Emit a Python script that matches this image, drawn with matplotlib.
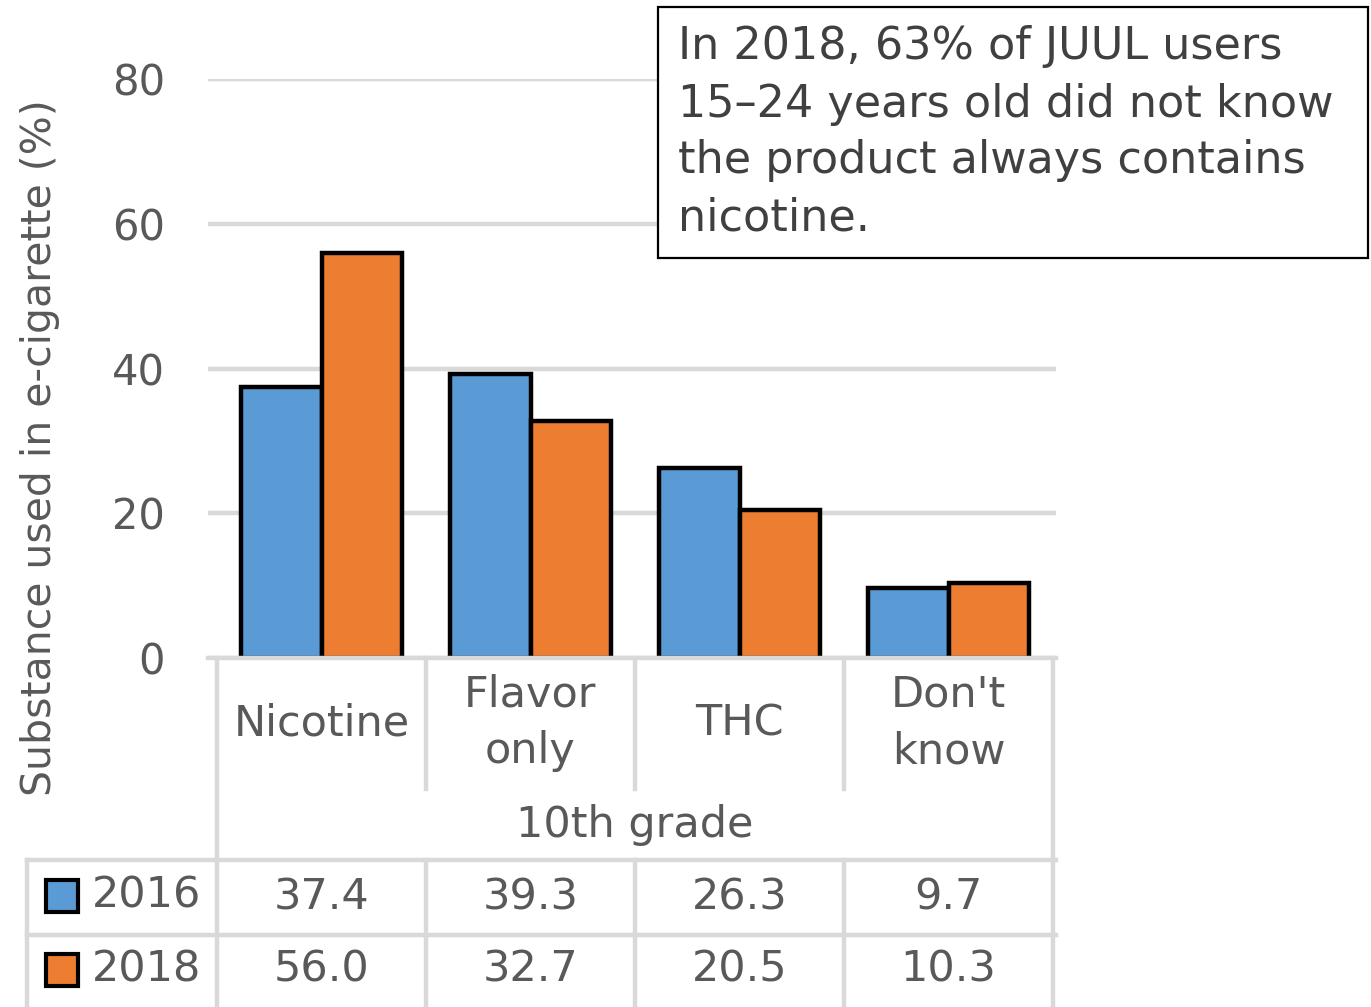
import matplotlib
matplotlib.use("Agg")
import matplotlib.pyplot as plt
import matplotlib.transforms as mtransforms
from matplotlib.lines import Line2D
from matplotlib.patches import Rectangle

# ---- data ----
categories = ["Nicotine", "Flavor\nonly", "THC", "Don't\nknow"]
group_label = "10th grade"
series_names = ["2016", "2018"]
values_2016 = [37.4, 39.3, 26.3, 9.7]
values_2018 = [56.0, 32.7, 20.5, 10.3]
yticks = [0, 20, 40, 60, 80]
ylabel = "Substance used in e-cigarette (%)"
note_lines = ["In 2018, 63% of JUUL users",
              "15\u201324 years old did not know",
              "the product always contains",
              "nicotine."]

# ---- style ----
W, H = 1371, 1007
BLUE = "#5b9bd5"
ORANGE = "#ed7d31"
GRID = "#d9d9d9"
TXT = "#595959"
FONT = "DejaVu Sans"
FS = 31

def fx(px):
    return px / W

def fy(py):
    return 1 - py / H

fig = plt.figure(figsize=(W / 100, H / 100), dpi=100)
plt.rcParams["font.family"] = FONT

ax_left, ax_right = 208, 1056
ax_top, ax_bot = 79, 658
ax = fig.add_axes([fx(ax_left), fy(ax_bot), (ax_right - ax_left) / W, (ax_bot - ax_top) / H])

n = len(categories)
xs = list(range(n))
bw = 0.385
unit = 209.0
ax.set_xlim(-0.5 - (217 - ax_left) / unit, n - 0.5 + (ax_right - 1053) / unit)
ax.set_ylim(0, 80)

ax.bar([x - bw / 2 for x in xs], values_2016, width=bw, color=BLUE,
       edgecolor="black", linewidth=3.2, zorder=3)
ax.bar([x + bw / 2 for x in xs], values_2018, width=bw, color=ORANGE,
       edgecolor="black", linewidth=3.2, zorder=3)

ax.set_yticks(yticks)
ax.set_yticklabels([str(t) for t in yticks], fontsize=30, color=TXT)
ax.tick_params(axis="y", length=0, pad=31)
ax.set_xticks([])
ax.yaxis.grid(True, color=GRID, linewidth=3.2)
ax.set_axisbelow(True)
for s in ["top", "right", "left"]:
    ax.spines[s].set_visible(False)
ax.spines["bottom"].set_color(GRID)
ax.spines["bottom"].set_linewidth(3.2)
ax.spines["bottom"].set_zorder(4)

fig.text(fx(40), fy(448), ylabel, rotation=90, ha="center", va="center",
         fontsize=29.5, color=TXT)

# ---- table below ----
tr = mtransforms.blended_transform_factory(ax.transData, fig.transFigure)

for i, c in enumerate(categories):
    fig.text(i, fy(723), c, transform=tr, ha="center", va="center",
             fontsize=FS, color=TXT, linespacing=1.45)
fig.text((n - 1) / 2, fy(825), group_label, transform=tr, ha="center",
         va="center", fontsize=FS, color=TXT)

row_y = [fy(897), fy(970)]
for r, vals in enumerate([values_2016, values_2018]):
    for i, v in enumerate(vals):
        fig.text(i, row_y[r], f"{v:.1f}", transform=tr, ha="center",
                 va="center", fontsize=FS, color=TXT)

for r, (name, col) in enumerate(zip(series_names, [BLUE, ORANGE])):
    yc = [896, 970][r]
    fig.patches.append(Rectangle((fx(46), fy(yc + 16)), 32 / W, 32 / H,
                                 transform=fig.transFigure, facecolor=col,
                                 edgecolor="black", linewidth=3, zorder=5))
    fig.text(fx(92), fy(yc), name, ha="left", va="center", fontsize=FS,
             color=TXT)

lw = 3.2

def hline(y, x0, x1):
    fig.add_artist(Line2D([fx(x0), fx(x1)], [fy(y), fy(y)], color=GRID,
                          linewidth=lw, transform=fig.transFigure))

def vline(x, y0, y1):
    fig.add_artist(Line2D([fx(x), fx(x)], [fy(y0), fy(y1)], color=GRID,
                          linewidth=lw, transform=fig.transFigure))

def col_px(xd):
    return ax.transData.transform((xd, 0))[0]

fig.canvas.draw()
bounds = [col_px(i - 0.5) for i in range(n + 1)]
for j, bx in enumerate(bounds):
    if j == 0 or j == n:
        vline(bx, 658, 1007)
    else:
        vline(bx, 658, 789)
        vline(bx, 860, 1007)
hline(860, 27, 1056)
hline(935, 27, 1056)
vline(27, 860, 1007)

# ---- note box ----
fig.patches.append(Rectangle((fx(658), fy(258)), (1368 - 658) / W, (258 - 7) / H,
                             transform=fig.transFigure, facecolor="white",
                             edgecolor="black", linewidth=1.6, zorder=10))
for k, line in enumerate(note_lines):
    fig.text(fx(678), fy(47 + 57 * k), line, ha="left", va="center",
             fontsize=32, color="#404040", zorder=11)

fig.savefig("out.png", dpi=100)
